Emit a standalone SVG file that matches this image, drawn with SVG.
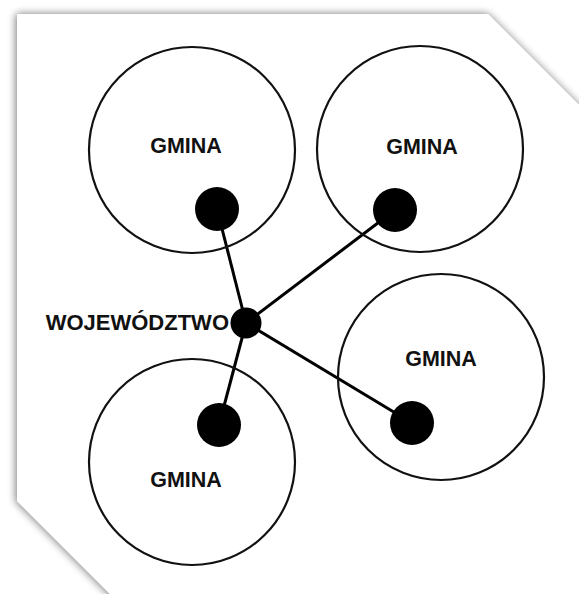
<svg xmlns="http://www.w3.org/2000/svg" width="579" height="594" viewBox="0 0 579 594">
<defs>
<filter id="shadow" x="-10%" y="-10%" width="120%" height="120%">
<feGaussianBlur in="SourceAlpha" stdDeviation="4.5"/>
<feOffset dx="-1" dy="0" result="b"/>
<feComponentTransfer><feFuncA type="linear" slope="0.55"/></feComponentTransfer>
<feMerge><feMergeNode/><feMergeNode in="SourceGraphic"/></feMerge>
</filter>
<style>
.area{fill:none;stroke:#111;stroke-width:2.2}
.dot{fill:#000}
.lbl{font-family:"Liberation Sans",Arial,sans-serif;font-weight:bold;font-size:21.5px;fill:#111;text-anchor:middle}
.link{stroke:#000;stroke-width:3;fill:none}
</style>
</defs>
<rect width="579" height="594" fill="#fff"/>
<polygon points="17,14 488,14 590,116 590,610 126,610 17,501" fill="#fff" filter="url(#shadow)"/>
<g id="connectors">
<line class="link" x1="246" y1="323" x2="217" y2="209"/>
<line class="link" x1="246" y1="323" x2="395" y2="210"/>
<line class="link" x1="246" y1="323" x2="219" y2="425"/>
<line class="link" x1="246" y1="323" x2="412" y2="423"/>
</g>
<g id="gmina1">
<circle class="area" cx="192" cy="150" r="103"/>
<text class="lbl" x="186" y="153">GMINA</text>
<circle class="dot" cx="217" cy="209" r="22"/>
</g>
<g id="gmina2">
<circle class="area" cx="420" cy="149" r="103"/>
<text class="lbl" x="422" y="154">GMINA</text>
<circle class="dot" cx="395" cy="210" r="22"/>
</g>
<g id="gmina3">
<circle class="area" cx="192" cy="462" r="103"/>
<text class="lbl" x="186" y="487">GMINA</text>
<circle class="dot" cx="219" cy="425" r="22"/>
</g>
<g id="gmina4">
<circle class="area" cx="441" cy="377" r="103"/>
<text class="lbl" x="441" y="366">GMINA</text>
<circle class="dot" cx="412" cy="423" r="22"/>
</g>
<g id="wojewodztwo">
<circle class="dot" cx="246" cy="323" r="15.5"/>
<text class="lbl" x="229" y="330" style="text-anchor:end;font-size:22px">WOJEWÓDZTWO</text>
</g>
</svg>
